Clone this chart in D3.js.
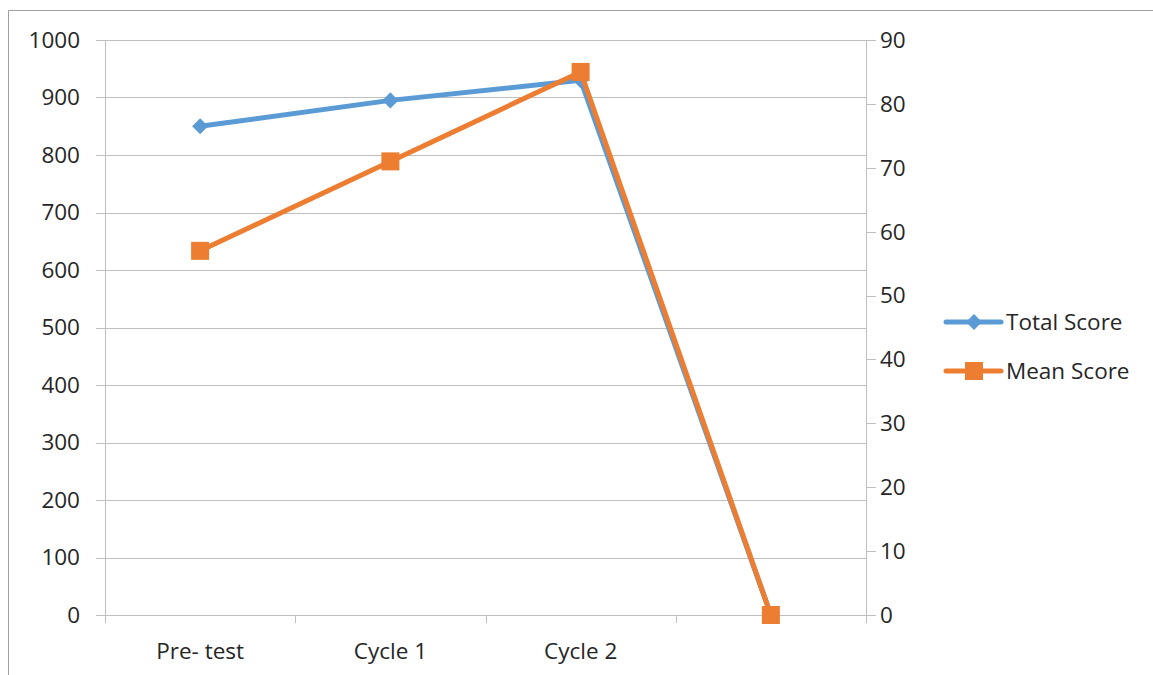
<!DOCTYPE html>
<html><head><meta charset="utf-8">
<script src="https://cdn.jsdelivr.net/npm/d3@7"></script>
<style>body{margin:0;background:#fff}svg{display:block}text{font-family:"Open Sans","Liberation Sans",sans-serif;fill:#262626}</style>
</head><body>
<svg id="c" width="1153" height="675"></svg>
<script>
const categories = ["Pre- test", "Cycle 1", "Cycle 2", ""];
const totalScore = [850, 895, 930, 0];
const meanScore = [57, 71, 85, 0];
const leftTicks = [0,100,200,300,400,500,600,700,800,900,1000];
const rightTicks = [0,10,20,30,40,50,60,70,80,90];
const seriesNames = ["Total Score", "Mean Score"];

const svg = d3.select("#c");
const L = 105, R = 866, T = 40, B = 615;
const blue = "#5B9BD5", orange = "#ED7D31";
const FS = 22.5;

// chart border (partially cropped)
svg.append("path").attr("d","M8.5,675 L8.5,10.5 L1153,10.5").attr("fill","none").attr("stroke","#a0a0a0").attr("stroke-width",1);

const x = d3.scaleBand().domain(d3.range(categories.length)).range([L,R]).padding(0);
const yL = d3.scaleLinear().domain([0,1000]).range([B,T]);
const yR = d3.scaleLinear().domain([0,90]).range([B,T]);

// gridlines
svg.append("g").selectAll("line").data(leftTicks).join("line")
  .attr("x1",96).attr("x2",R).attr("y1",d=>Math.round(yL(d))+0.5).attr("y2",d=>Math.round(yL(d))+0.5)
  .attr("stroke","#bfbfbf").attr("stroke-width",1);

svg.append("line").attr("x1",L+0.5).attr("x2",L+0.5).attr("y1",T).attr("y2",B+8).attr("stroke","#bfbfbf");
svg.append("line").attr("x1",R+0.5).attr("x2",R+0.5).attr("y1",T).attr("y2",B+8).attr("stroke","#bfbfbf");
svg.append("g").selectAll("line").data(rightTicks).join("line")
  .attr("x1",R).attr("x2",R+10).attr("y1",d=>Math.round(yR(d))+0.5).attr("y2",d=>Math.round(yR(d))+0.5)
  .attr("stroke","#bfbfbf");
const bounds = d3.range(categories.length+1).map(i => i<categories.length ? x(i) : x(categories.length-1)+x.bandwidth());
svg.append("g").selectAll("line").data(bounds).join("line")
  .attr("x1",d=>Math.round(d)+0.5).attr("x2",d=>Math.round(d)+0.5).attr("y1",B).attr("y2",B+8)
  .attr("stroke","#bfbfbf");

svg.append("g").selectAll("text").data(leftTicks).join("text")
  .attr("x",80).attr("y",d=>yL(d)).attr("dy","0.35em").attr("text-anchor","end")
  .attr("font-size",FS).text(d=>d);
svg.append("g").selectAll("text").data(rightTicks).join("text")
  .attr("x",880).attr("y",d=>yR(d)).attr("dy","0.35em").attr("text-anchor","start")
  .attr("font-size",FS).text(d=>d);
svg.append("g").selectAll("text").data(categories).join("text")
  .attr("x",(d,i)=>x(i)+x.bandwidth()/2).attr("y",651).attr("dy","0.35em").attr("text-anchor","middle")
  .attr("font-size",FS).text(d=>d);

const cx = i => x(i)+x.bandwidth()/2;
const line1 = d3.line().x((d,i)=>cx(i)).y(d=>yL(d));
const line2 = d3.line().x((d,i)=>cx(i)).y(d=>yR(d));

svg.append("path").datum(totalScore).attr("d",line1).attr("fill","none").attr("stroke",blue).attr("stroke-width",5).attr("stroke-linejoin","round");
svg.append("g").selectAll("path").data(totalScore).join("path")
  .attr("d",d3.symbol().type(d3.symbolSquare).size(128))
  .attr("transform",(d,i)=>`translate(${cx(i)},${yL(d)}) rotate(45)`).attr("fill",blue);

svg.append("path").datum(meanScore).attr("d",line2).attr("fill","none").attr("stroke",orange).attr("stroke-width",5).attr("stroke-linejoin","round");
svg.append("g").selectAll("rect").data(meanScore).join("rect")
  .attr("x",(d,i)=>cx(i)-9).attr("y",d=>yR(d)-9).attr("width",18).attr("height",18).attr("fill",orange);

const lg = svg.append("g");
[blue, orange].forEach((c,k)=>{
  const yy = 322 + k*49;
  lg.append("line").attr("x1",946).attr("x2",1001).attr("y1",yy).attr("y2",yy).attr("stroke",c).attr("stroke-width",5).attr("stroke-linecap","round");
  if(k===0){
    lg.append("path").attr("d",d3.symbol().type(d3.symbolSquare).size(128)).attr("transform",`translate(974,${yy}) rotate(45)`).attr("fill",c);
  } else {
    lg.append("rect").attr("x",965).attr("y",yy-9).attr("width",18).attr("height",18).attr("fill",c);
  }
  lg.append("text").attr("x",1006).attr("y",yy).attr("dy","0.35em").attr("font-size",FS).text(seriesNames[k]);
});
</script>
</body></html>
